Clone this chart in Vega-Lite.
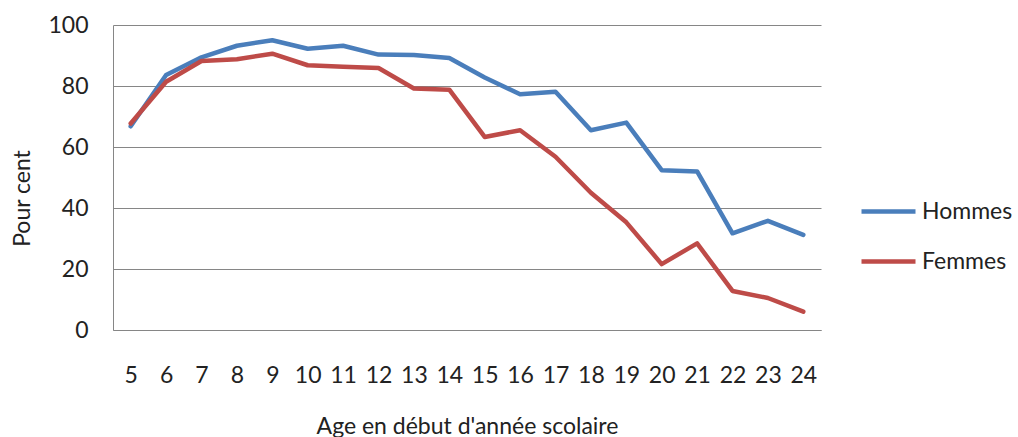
{
  "$schema": "https://vega.github.io/schema/vega-lite/v6.json",
  "width": 708,
  "height": 305,
  "autosize": "none",
  "padding": {"left": 113, "top": 25, "right": 197, "bottom": 107},
  "background": "white",
  "config": {"font": "Lato", "view": {"stroke": null}},
  "data": {
    "values": [
      {"age": 5, "sexe": "Hommes", "pct": 66.8},
      {"age": 6, "sexe": "Hommes", "pct": 83.6},
      {"age": 7, "sexe": "Hommes", "pct": 89.4},
      {"age": 8, "sexe": "Hommes", "pct": 93.2},
      {"age": 9, "sexe": "Hommes", "pct": 95.0},
      {"age": 10, "sexe": "Hommes", "pct": 92.2},
      {"age": 11, "sexe": "Hommes", "pct": 93.2},
      {"age": 12, "sexe": "Hommes", "pct": 90.3},
      {"age": 13, "sexe": "Hommes", "pct": 90.2},
      {"age": 14, "sexe": "Hommes", "pct": 89.2},
      {"age": 15, "sexe": "Hommes", "pct": 82.8},
      {"age": 16, "sexe": "Hommes", "pct": 77.3},
      {"age": 17, "sexe": "Hommes", "pct": 78.1},
      {"age": 18, "sexe": "Hommes", "pct": 65.5},
      {"age": 19, "sexe": "Hommes", "pct": 68.0},
      {"age": 20, "sexe": "Hommes", "pct": 52.4},
      {"age": 21, "sexe": "Hommes", "pct": 52.0},
      {"age": 22, "sexe": "Hommes", "pct": 31.7},
      {"age": 23, "sexe": "Hommes", "pct": 35.8},
      {"age": 24, "sexe": "Hommes", "pct": 31.2},
      {"age": 5, "sexe": "Femmes", "pct": 67.7},
      {"age": 6, "sexe": "Femmes", "pct": 81.4},
      {"age": 7, "sexe": "Femmes", "pct": 88.2},
      {"age": 8, "sexe": "Femmes", "pct": 88.8},
      {"age": 9, "sexe": "Femmes", "pct": 90.6},
      {"age": 10, "sexe": "Femmes", "pct": 86.8},
      {"age": 11, "sexe": "Femmes", "pct": 86.3},
      {"age": 12, "sexe": "Femmes", "pct": 85.9},
      {"age": 13, "sexe": "Femmes", "pct": 79.2},
      {"age": 14, "sexe": "Femmes", "pct": 78.8},
      {"age": 15, "sexe": "Femmes", "pct": 63.3},
      {"age": 16, "sexe": "Femmes", "pct": 65.5},
      {"age": 17, "sexe": "Femmes", "pct": 56.8},
      {"age": 18, "sexe": "Femmes", "pct": 45.0},
      {"age": 19, "sexe": "Femmes", "pct": 35.3},
      {"age": 20, "sexe": "Femmes", "pct": 21.6},
      {"age": 21, "sexe": "Femmes", "pct": 28.4},
      {"age": 22, "sexe": "Femmes", "pct": 12.8},
      {"age": 23, "sexe": "Femmes", "pct": 10.5},
      {"age": 24, "sexe": "Femmes", "pct": 6.0}
    ]
  },
  "mark": {"type": "line", "strokeWidth": 4.5, "strokeJoin": "round", "strokeCap": "round"},
  "encoding": {
    "x": {
      "field": "age",
      "type": "ordinal",
      "scale": {"type": "point", "padding": 0.5},
      "axis": {
        "title": "Age en début d'année scolaire",
        "labelAngle": 0,
        "ticks": false,
        "grid": false,
        "domainColor": "#868686",
        "domainWidth": 1,
        "labelFontSize": 23,
        "labelColor": "#222222",
        "labelPadding": 34,
        "titleFontSize": 23,
        "titleFontWeight": "normal",
        "titleColor": "#222222",
        "titlePadding": 28
      }
    },
    "y": {
      "field": "pct",
      "type": "quantitative",
      "scale": {"domain": [0, 100]},
      "axis": {
        "values": [0, 20, 40, 60, 80, 100],
        "title": "Pour cent",
        "ticks": false,
        "grid": true,
        "gridColor": "#868686",
        "gridWidth": 1,
        "domainColor": "#868686",
        "domainWidth": 1,
        "labelFontSize": 23,
        "labelColor": "#222222",
        "labelPadding": 25,
        "titleFontSize": 23,
        "titleFontWeight": "normal",
        "titleColor": "#222222",
        "titleX": -91,
        "titleY": 173,
        "titleBaseline": "middle",
        "titleAlign": "center"
      }
    },
    "color": {
      "field": "sexe",
      "type": "nominal",
      "scale": {"domain": ["Hommes", "Femmes"], "range": ["#4a7ebb", "#be4b48"]},
      "legend": {
        "title": null,
        "orient": "none",
        "legendX": 746,
        "legendY": 157,
        "symbolType": "stroke",
        "symbolSize": 2916,
        "symbolStrokeWidth": 4.5,
        "labelFontSize": 23,
        "labelColor": "#222222",
        "labelOffset": 4,
        "rowPadding": 8
      }
    }
  }
}
